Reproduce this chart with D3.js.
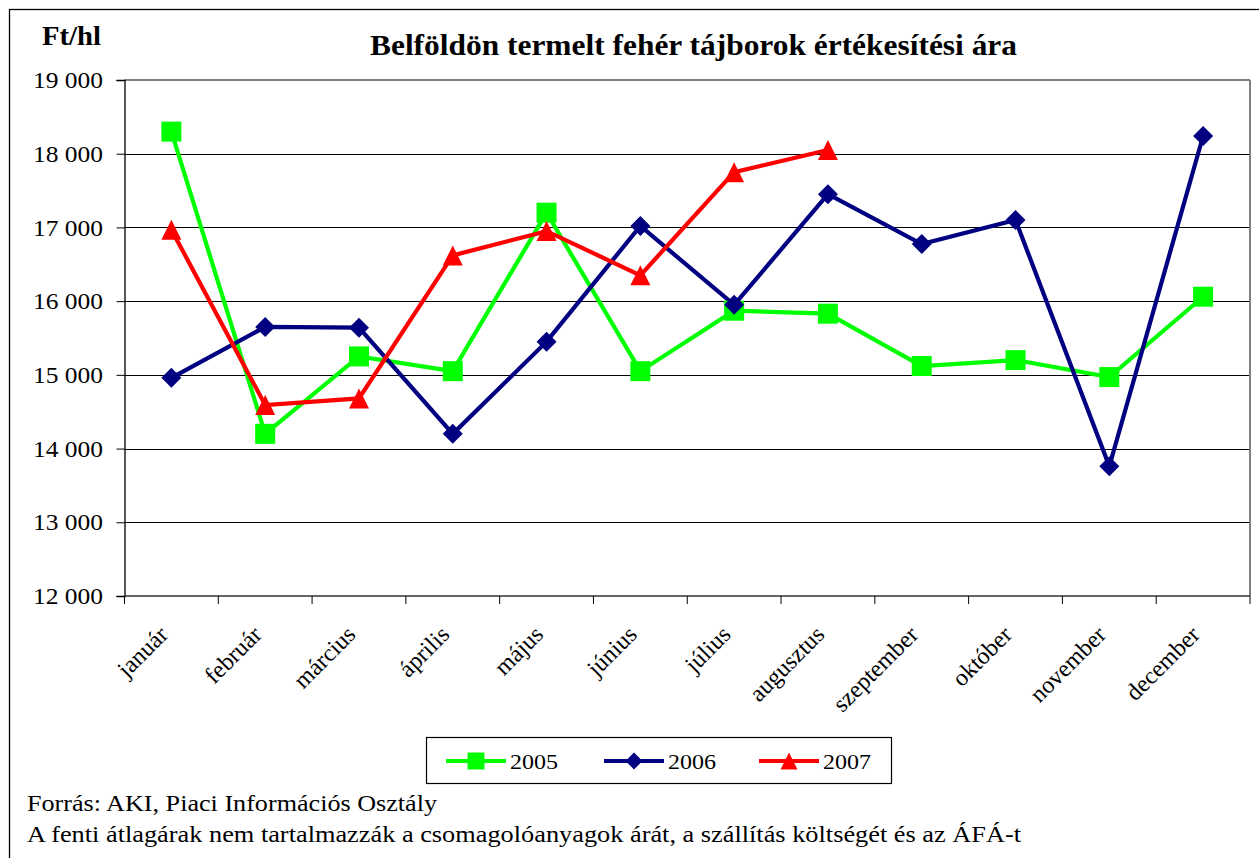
<!DOCTYPE html>
<html>
<head>
<meta charset="utf-8">
<script src="https://cdn.jsdelivr.net/npm/d3@7"></script>
<style>
  html, body { margin: 0; padding: 0; background: #fff; }
  svg { display: block; }
  text { font-family: "Liberation Serif", "Times New Roman", serif; fill: #000; }
</style>
</head>
<body>
<svg id="chart" width="1259" height="858"></svg>
<script>
const months = ["január","február","március","április","május","június","július","augusztus","szeptember","október","november","december"];
const years = ["2005","2006","2007"];
const values2005 = [18300,14200,15250,15050,17200,15050,15870,15830,15120,15200,14970,16060];
const values2006 = [14960,15650,15640,14200,15450,17020,15950,17450,16775,17100,13760,18240];
const values2007 = [16970,14590,14680,16620,16950,16350,17750,18050];
const yTicks = [12000,13000,14000,15000,16000,17000,18000,19000];
const colors = ["#00FF00","#000080","#FF0000"];
const titleText = "Belföldön termelt fehér tájborok értékesítési ára";
const unitText = "Ft/hl";
const footer1 = "Forrás: AKI, Piaci Információs Osztály";
const footer2 = "A fenti átlagárak nem tartalmazzák a csomagolóanyagok árát, a szállítás költségét  és az ÁFÁ-t";

const series = [values2005, values2006, values2007];

const svg = d3.select("#chart");
const L = 124.5, R = 1250, T = 80, B = 596;

const x = d3.scaleBand().domain(months).range([L, R]).padding(0);
const y = d3.scaleLinear().domain([12000, 19000]).range([B, T]);
const cx = m => x(m) + x.bandwidth() / 2;

const fmt = d3.formatLocale({decimal: ",", thousands: " ", grouping: [3], currency: ["", ""]}).format(",");

// outer frame
svg.append("rect").attr("x", 9.5).attr("y", 9.5).attr("width", 1300).attr("height", 900)
  .attr("fill", "none").attr("stroke", "#000").attr("stroke-width", 1.3);

// gridlines
svg.append("g").selectAll("line").data(yTicks.filter(v => v > 12000 && v < 19000)).join("line")
  .attr("x1", L).attr("x2", R).attr("y1", d => Math.round(y(d)) + 0.5).attr("y2", d => Math.round(y(d)) + 0.5)
  .attr("stroke", "#000").attr("stroke-width", 1);

// plot border (top, right, bottom gray)
svg.append("line").attr("x1", L).attr("x2", R).attr("y1", y(19000)).attr("y2", y(19000)).attr("stroke", "#808080").attr("stroke-width", 2);
svg.append("line").attr("x1", R).attr("x2", R).attr("y1", y(19000)).attr("y2", y(12000)).attr("stroke", "#808080").attr("stroke-width", 2);
svg.append("line").attr("x1", L).attr("x2", R).attr("y1", y(12000)).attr("y2", y(12000)).attr("stroke", "#666").attr("stroke-width", 2);

// y axis
const yAxis = d3.axisLeft(y).tickValues(yTicks).tickFormat(fmt).tickSize(8).tickPadding(13.5);
const gy = svg.append("g").attr("transform", `translate(${L},0)`).call(yAxis);
gy.select(".domain").attr("stroke", "#000").attr("stroke-width", 1.3);
gy.selectAll(".tick line").attr("stroke", "#000");
gy.selectAll(".tick text").attr("font-family", "Liberation Serif").attr("font-size", 24).attr("fill", "#000")
  .attr("textLength", 70).attr("lengthAdjust", "spacingAndGlyphs");

// x axis ticks at band boundaries
const boundaries = months.map(m => x(m)).concat([R]);
svg.append("g").selectAll("line").data(boundaries).join("line")
  .attr("x1", d => d).attr("x2", d => d).attr("y1", B).attr("y2", B + 8)
  .attr("stroke", "#000").attr("stroke-width", 1);

// x labels
svg.append("g").selectAll("text").data(months).join("text")
  .attr("transform", d => `translate(${cx(d) - 2},${B + 40}) rotate(-45)`)
  .attr("text-anchor", "end").attr("font-size", 24).text(d => d);

// markers
function markerPath(type, s) {
  const p = d3.path();
  const h = s / 2;
  if (type === 0) { p.rect(-h, -h, s, s); }
  else if (type === 1) { p.moveTo(0, -h); p.lineTo(h, 0); p.lineTo(0, h); p.lineTo(-h, 0); p.closePath(); }
  else { p.moveTo(0, -h); p.lineTo(h, h); p.lineTo(-h, h); p.closePath(); }
  return p.toString();
}

const line = d3.line().x((d, i) => cx(months[i])).y(d => y(d));

series.forEach((vals, k) => {
  svg.append("path").datum(vals).attr("d", line).attr("fill", "none")
    .attr("stroke", colors[k]).attr("stroke-width", 4.2).attr("stroke-linejoin", "miter");
});
series.forEach((vals, k) => {
  svg.append("g").selectAll("path").data(vals).join("path")
    .attr("transform", (d, i) => `translate(${cx(months[i])},${y(d)})`)
    .attr("d", markerPath(k, 20))
    .attr("fill", colors[k]);
});

// title & unit
svg.append("text").attr("x", 370).attr("y", 55)
  .attr("font-weight", "bold").attr("font-size", 30)
  .attr("textLength", 647).attr("lengthAdjust", "spacingAndGlyphs").text(titleText);
svg.append("text").attr("x", 42).attr("y", 45)
  .attr("font-weight", "bold").attr("font-size", 27)
  .attr("textLength", 59).attr("lengthAdjust", "spacingAndGlyphs").text(unitText);

// legend
const lg = svg.append("g");
lg.append("rect").attr("x", 426.5).attr("y", 737.5).attr("width", 465).attr("height", 46)
  .attr("fill", "#fff").attr("stroke", "#000").attr("stroke-width", 1.2);
const legendX = [446, 604, 759];
years.forEach((yr, k) => {
  const g = lg.append("g").attr("transform", `translate(${legendX[k]},761)`);
  g.append("line").attr("x1", 0).attr("x2", 60).attr("y1", 0).attr("y2", 0)
    .attr("stroke", colors[k]).attr("stroke-width", 4.2);
  g.append("path").attr("transform", "translate(30,0)").attr("d", markerPath(k, 17)).attr("fill", colors[k]);
  g.append("text").attr("x", 64).attr("y", 8).attr("font-size", 22)
    .attr("textLength", 48).attr("lengthAdjust", "spacingAndGlyphs").text(yr);
});

// footers
svg.append("text").attr("x", 27).attr("y", 811).attr("font-size", 23)
  .attr("textLength", 410).attr("lengthAdjust", "spacingAndGlyphs").text(footer1);
svg.append("text").attr("x", 27).attr("y", 842).attr("font-size", 23)
  .attr("textLength", 994).attr("lengthAdjust", "spacingAndGlyphs").text(footer2);
</script>
</body>
</html>
